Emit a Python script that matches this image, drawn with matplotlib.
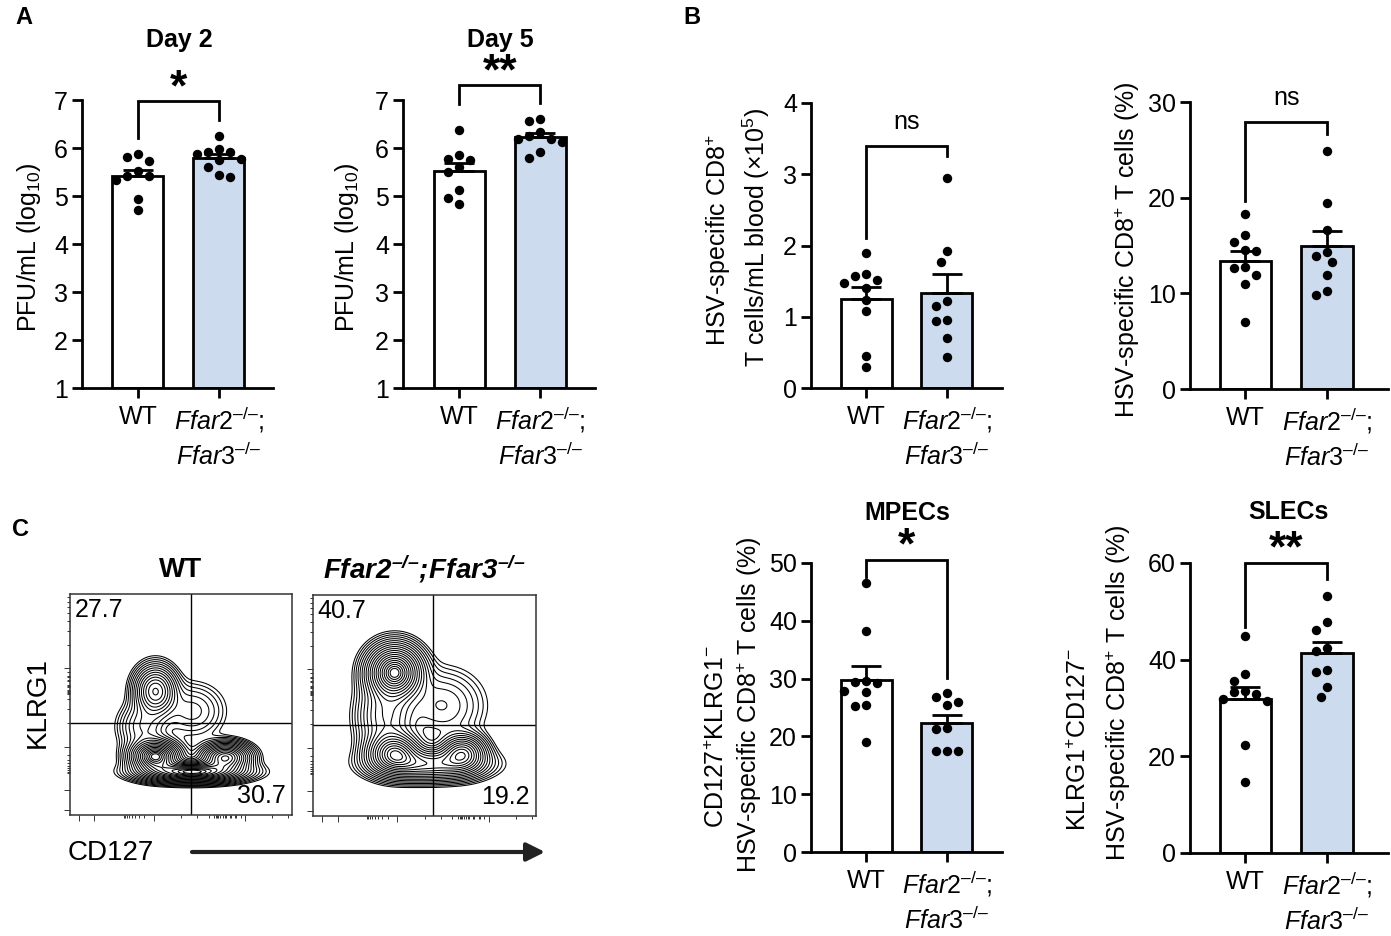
import numpy as np
import matplotlib
matplotlib.use('Agg')
import matplotlib.pyplot as plt

plt.rcParams['font.family'] = ['Liberation Sans', 'DejaVu Sans']
plt.rcParams['mathtext.fontset'] = 'custom'
plt.rcParams['mathtext.rm'] = 'Liberation Sans'
plt.rcParams['mathtext.it'] = 'Liberation Sans:italic'
plt.rcParams['mathtext.bf'] = 'Liberation Sans:bold'
plt.rcParams['mathtext.bfit'] = 'Liberation Sans:bold:italic'
plt.rcParams['mathtext.default'] = 'regular'

W, H = 1391, 936
BLUE = '#cddbee'
FS = 18

# ---- data ----
groups = ['WT', '$\\mathit{Ffar2^{–/–}{;}}$\n$\\mathit{Ffar3^{–/–}}$']

day2_wt = [5.87, 5.81, 5.72, 5.52, 5.42, 5.42, 5.33, 4.94, 4.71]
day2_ko = [6.26, 5.97, 5.92, 5.92, 5.87, 5.78, 5.74, 5.60, 5.44, 5.39]
day5_wt = [6.38, 5.85, 5.78, 5.75, 5.61, 5.49, 5.13, 4.95, 4.83]
day5_ko = [6.60, 6.57, 6.34, 6.25, 6.18, 6.18, 6.13, 5.92, 5.80]

count_wt = [1.89, 1.60, 1.57, 1.51, 1.48, 1.40, 1.24, 1.08, 0.45, 0.29]
count_ko = [2.95, 1.92, 1.77, 1.22, 1.15, 0.96, 0.94, 0.70, 0.44]
pct_wt = [18.3, 16.1, 15.4, 14.5, 14.4, 12.8, 12.6, 11.9, 11.0, 7.0]
pct_ko = [24.9, 19.4, 16.6, 14.3, 13.9, 13.3, 11.9, 10.2, 9.8]

mpec_wt = [46.5, 38.2, 29.6, 29.4, 29.2, 27.8, 27.6, 25.5, 25.3, 19.1]
mpec_ko = [27.5, 26.9, 26.0, 25.4, 21.5, 21.2, 17.5, 17.5, 17.5]
slec_wt = [44.8, 37.0, 35.6, 33.6, 33.3, 33.0, 31.8, 31.5, 22.4, 14.6]
slec_ko = [53.1, 47.7, 46.2, 42.5, 41.7, 37.8, 37.4, 34.4, 32.3]

# flow contour plots: gaussian components (x, y, sx, sy, weight) in plot-fraction units
flow_wt = [(0.385, 0.265, 0.060, 0.040, 1.00),
           (0.70, 0.260, 0.060, 0.035, 0.80),
           (0.55, 0.195, 0.120, 0.025, 1.00),
           (0.385, 0.560, 0.050, 0.060, 0.55),
           (0.33, 0.400, 0.060, 0.060, 0.15),
           (0.55, 0.470, 0.080, 0.070, 0.10)]
flow_ko = [(0.366, 0.650, 0.065, 0.065, 1.00),
           (0.366, 0.285, 0.065, 0.050, 0.75),
           (0.67, 0.285, 0.055, 0.045, 0.60),
           (0.52, 0.235, 0.130, 0.040, 0.50),
           (0.33, 0.450, 0.070, 0.090, 0.25),
           (0.58, 0.500, 0.100, 0.090, 0.12)]
quad_wt = ['27.7', '30.7']
quad_ko = ['40.7', '19.2']

fig = plt.figure(figsize=(W / 100, H / 100), dpi=100)


def px_axes(x0, y0, x1, y1):
    return fig.add_axes([x0 / W, 1 - y1 / H, (x1 - x0) / W, (y1 - y0) / H])


ov = fig.add_axes([0, 0, 1, 1], zorder=10)
ov.set_xlim(0, W)
ov.set_ylim(H, 0)
ov.axis('off')


def swarm(vals, ppx, ppy, diam=11.0, step=5.5):
    vals = np.asarray(vals, float)
    order = np.argsort(-vals, kind='stable')
    cands = sorted([k * step for k in range(-8, 9)], key=lambda c: (abs(c), c))
    placed = []
    offs = np.zeros(len(vals))
    for i in order:
        y = vals[i] * ppy
        for c in cands:
            if all((c - a) ** 2 + (y - b) ** 2 >= diam ** 2 for a, b in placed):
                break
        placed.append((c, y))
        offs[i] = c / ppx
    return offs


def bar_panel(box, wt, ko, ylim, yticks, xlim, bracket, sig, sig_fs):
    ax = px_axes(*box)
    ax.set_xlim(*xlim)
    ax.set_ylim(*ylim)
    ppx = (box[2] - box[0]) / (xlim[1] - xlim[0])
    ppy = (box[3] - box[1]) / (ylim[1] - ylim[0])
    for i, (vals, col) in enumerate([(wt, 'white'), (ko, BLUE)]):
        vals = np.asarray(vals)
        m = vals.mean()
        sem = vals.std(ddof=1) / np.sqrt(len(vals))
        ax.bar(i, m - ylim[0], bottom=ylim[0], width=0.63, color=col,
               edgecolor='black', linewidth=2.0, zorder=1)
        ax.errorbar(i, m, yerr=[[0], [sem]], color='black', elinewidth=2.0,
                    capsize=11, capthick=2.0, zorder=2)
        ax.scatter(i + swarm(vals, ppx, ppy), vals, s=46, color='black',
                   linewidths=0, zorder=3, clip_on=False)
    for s in ['top', 'right']:
        ax.spines[s].set_visible(False)
    for s in ['left', 'bottom']:
        ax.spines[s].set_linewidth(2.0)
    ax.set_yticks(yticks)
    ax.set_xticks([0, 1])
    ax.set_xticklabels(groups, linespacing=1.35)
    ax.tick_params(axis='both', width=2.0, length=7, labelsize=FS, pad=3)
    ax.tick_params(axis='x', pad=5)
    top, l_end, r_end = bracket
    ax.plot([0, 0, 1, 1], [l_end, top, top, r_end], color='black', lw=2.0,
            clip_on=False, solid_joinstyle='miter')
    if sig == 'ns':
        ax.text(0.5, top + 24 / ppy, 'ns', ha='center', va='center', fontsize=FS)
    else:
        ax.text(0.5, top + 1 / ppy, sig, ha='center', va='baseline',
                fontsize=sig_fs, fontweight='bold')
    return ax


xl = (-0.69, 1.67)
bar_panel((82, 100, 273, 388), day2_wt, day2_ko, (1, 7), range(1, 8), xl,
          (6.98, 6.21, 6.58), '*', 32)
bar_panel((403, 100, 595, 388), day5_wt, day5_ko, (1, 7), range(1, 8), xl,
          (7.31, 6.92, 6.94), '**', 32)
bar_panel((811, 103, 1002, 388), count_wt, count_ko, (0, 4), range(0, 5),
          (-0.68, 1.68), (3.39, 2.11, 3.25), 'ns', 0)
bar_panel((1190, 102, 1388, 389), pct_wt, pct_ko, (0, 30), [0, 10, 20, 30],
          (-0.68, 1.75), (27.9, 19.7, 26.7), 'ns', 0)
bar_panel((811, 563, 1002, 852), mpec_wt, mpec_ko, (0, 50), range(0, 51, 10),
          (-0.68, 1.68), (50.6, 47.6, 30.1), '*', 32)
bar_panel((1190, 563, 1388, 853), slec_wt, slec_ko, (0, 60), [0, 20, 40, 60],
          (-0.68, 1.75), (60.1, 46.8, 56.6), '**', 32)

# titles, panel letters, y labels
for x, y, s in [(15, 18, 'A'), (683, 18, 'B'), (12, 530, 'C')]:
    ov.text(x, y, s, fontsize=17, fontweight='bold', ha='left', va='center')
for x, y, s in [(179, 40, 'Day 2'), (500, 40, 'Day 5'),
                (907, 513, 'MPECs'), (1288, 512, 'SLECs')]:
    ov.text(x, y, s, fontsize=FS, fontweight='bold', ha='center', va='center')

ylabels = [(29, 247, 'PFU/mL (log$_{10}$)'),
           (347, 247, 'PFU/mL (log$_{10}$)'),
           (718, 240, 'HSV-specific CD8$^{+}$'),
           (756, 237, 'T cells/mL blood (×10$^{5}$)'),
           (1127, 250, 'HSV-specific CD8$^{+}$ T cells (%)'),
           (717, 737, 'CD127$^{+}$KLRG1$^{-}$'),
           (749, 705, 'HSV-specific CD8$^{+}$ T cells (%)'),
           (1079, 740, 'KLRG1$^{+}$CD127$^{-}$'),
           (1118, 693, 'HSV-specific CD8$^{+}$ T cells (%)')]
for x, y, s in ylabels:
    ov.text(x, y, s, fontsize=FS, rotation=90, ha='center', va='center')


# ---- panel C: flow contour plots ----
def log_ticks(decades, lo, hi):
    step = decades[1] - decades[0]
    major, minor = list(decades), []
    for d in decades:
        for k in range(2, 10):
            for v in (d + step * np.log10(k), d - step * np.log10(k) * 0.35):
                if lo < v < hi:
                    minor.append(v)
    return major, minor


def flow_panel(box, comps, vline, hline, labels, title):
    ax = px_axes(*box)
    g = np.linspace(0, 1, 400)
    X, Y = np.meshgrid(g, g)
    Z = np.zeros_like(X)
    for cx, cy, sx, sy, w in comps:
        Z += w * np.exp(-0.5 * (((X - cx) / sx) ** 2 + ((Y - cy) / sy) ** 2))
    r = np.linspace(2.9, 0.3, 20)
    levels = Z.max() * np.exp(-0.5 * r ** 2)
    ax.contour(X, Y, Z, levels=levels, colors='black', linewidths=0.75)
    ax.axvline(vline, color='black', lw=1.0)
    ax.axhline(hline, color='black', lw=1.0)
    ax.set_xlim(0, 1)
    ax.set_ylim(0, 1)
    for s in ax.spines.values():
        s.set_linewidth(1.1)
        s.set_color('#333333')
    ymaj, ymin = log_ticks([0.309, 0.664], 0.0, 1.0)
    xmaj, xmin = log_ticks([0.378, 0.787], 0.0, 1.0)
    ax.set_yticks(ymaj + [0.113, 0.023])
    ax.set_yticks(ymin, minor=True)
    ax.set_xticks(xmaj + [0.11, 0.04])
    ax.set_xticks(xmin, minor=True)
    ax.tick_params(which='both', labelleft=False, labelbottom=False, width=0.7,
                   color='#333333')
    ax.tick_params(which='major', length=4)
    ax.tick_params(which='minor', length=2.2)
    ax.text(0.02, 0.98, labels[0], transform=ax.transAxes, fontsize=FS,
            ha='left', va='top')
    ax.text(0.97, 0.03, labels[1], transform=ax.transAxes, fontsize=FS,
            ha='right', va='bottom')
    ax.set_title(title, fontsize=20, fontweight='bold', pad=12)
    return ax


flow_panel((70, 594, 292, 815), flow_wt, 0.546, 0.415, quad_wt, 'WT')
flow_panel((313, 595, 536, 816), flow_ko, 0.54, 0.41, quad_ko,
           '$\\mathbfit{Ffar2^{–/–}{;}\\!Ffar3^{–/–}}$')

ov.text(38, 703, 'KLRG1', fontsize=20, rotation=90, ha='center', va='center')
ov.text(68, 853, 'CD127', fontsize=20, ha='left', va='center')
ov.annotate('', xy=(545, 852), xytext=(192, 852),
            arrowprops=dict(arrowstyle='-|>,head_length=1.1,head_width=0.55',
                            lw=3, color='#222222', shrinkA=0, shrinkB=0))

fig.savefig('out.png', dpi=100)
